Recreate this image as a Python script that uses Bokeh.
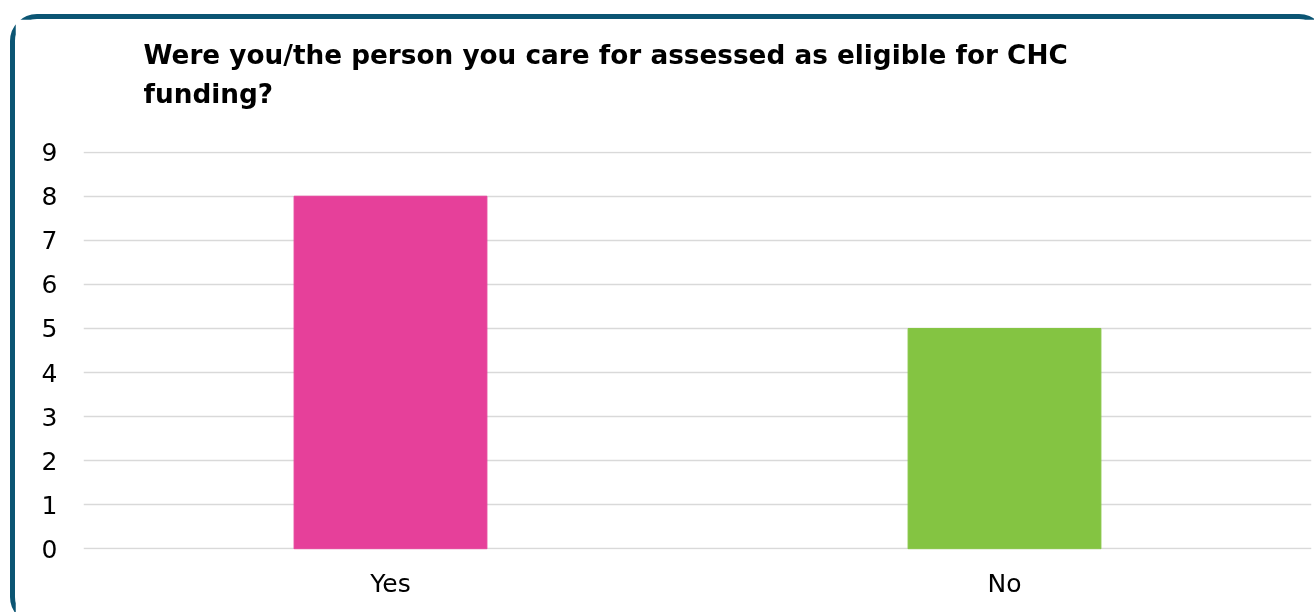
from bokeh.plotting import figure
from bokeh.models import Title, FactorRange, Range1d, ColumnDataSource
from bokeh.embed import file_html
from bokeh.resources import INLINE

categories = ["Yes", "No"]
counts = [8, 5]
bar_colors = ["#E6409A", "#84C442"]
y_ticks = [0, 1, 2, 3, 4, 5, 6, 7, 8, 9]
title_text = "Were you/the person you care for assessed as eligible for CHC\nfunding?\n"

src = ColumnDataSource(dict(cat=categories, val=counts, col=bar_colors))

p = figure(width=1316, height=610, x_range=FactorRange(*categories),
           y_range=Range1d(-0.015, 9.015), output_backend="svg", toolbar_location=None,
           min_border_left=68, min_border_right=20, min_border_top=132,
           min_border_bottom=80, background_fill_color="white",
           border_fill_color="white")
p.outline_line_color = None
p.styles = {"border": "5.5px solid #0b5573", "border-radius": "27px",
            "position": "fixed", "left": "10px", "top": "13.5px"}

p.vbar(x="cat", top="val", width=0.314, color="col", source=src)

p.yaxis.ticker = y_ticks
for ax in (p.xaxis[0], p.yaxis[0]):
    ax.axis_line_color = None
    ax.major_tick_line_color = None
    ax.minor_tick_line_color = None
    ax.major_label_text_font = "DejaVu Sans"
    ax.major_label_text_font_size = "25px"
    ax.major_label_text_color = "#000000"
p.yaxis.major_label_standoff = 20
p.xaxis.major_label_standoff = 13

p.xgrid.grid_line_color = None
p.ygrid.grid_line_color = "#d9d9d9"
p.ygrid.grid_line_width = 1.5

t = Title(text=title_text, align="left", offset=60, text_font="DejaVu Sans",
          text_font_style="bold", text_font_size="26.3px", standoff=4,
          vertical_align="top", text_line_height=1.3, text_color="#000000")
p.add_layout(t, "above")

open("out.html", "w").write(file_html(p, INLINE))
